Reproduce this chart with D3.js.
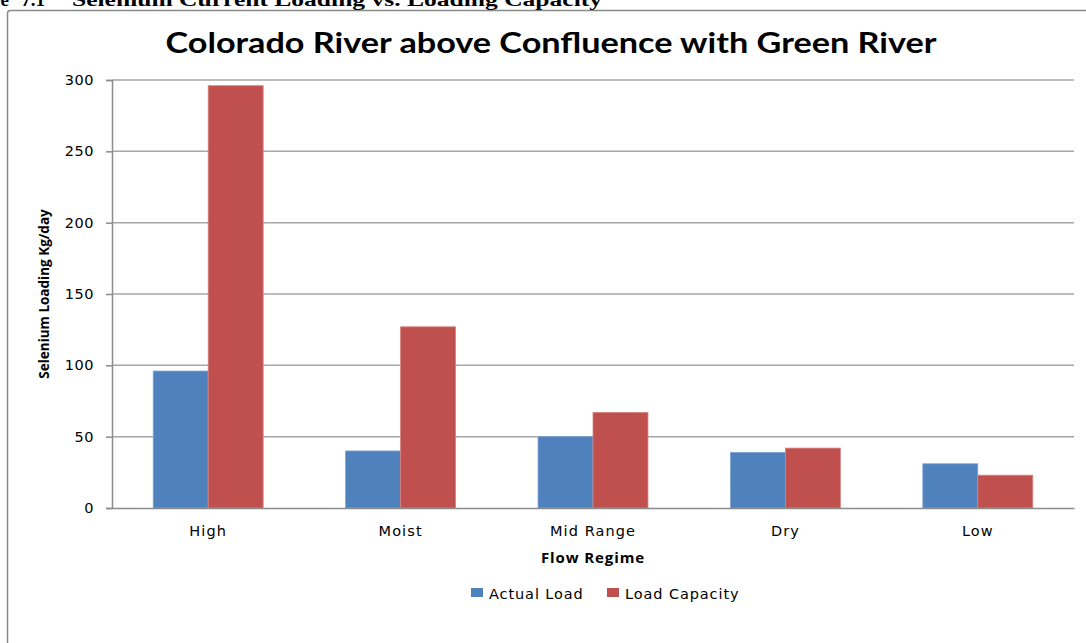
<!DOCTYPE html>
<html>
<head>
<meta charset="utf-8">
<script src="https://cdn.jsdelivr.net/npm/d3@7"></script>
<style>
  html, body { margin: 0; padding: 0; background: #fff; overflow: hidden; }
  svg { display: block; }
</style>
</head>
<body>
<svg id="chart" width="1086" height="643"></svg>
<script>
// Selenium loading by flow regime (kg/day)
const categories = ["High", "Moist", "Mid Range", "Dry", "Low"];
const actualLoad = [96, 40, 50, 39, 31];
const loadCapacity = [296, 127, 67, 42, 23];
const seriesNames = ["Actual Load", "Load Capacity"];
const yTicks = [0, 50, 100, 150, 200, 250, 300];

const colors = ["#4F81BD", "#C0504D"];
const edgeColors = ["#7FA3D3", "#D9837F"];

const svg = d3.select("#chart");
const plot = { left: 112, right: 1074, top: 80, bottom: 508 };
const sansFont = "'DejaVu Sans', 'Open Sans', sans-serif";
const serifFont = "'Liberation Serif', 'Times New Roman', serif";

// Chart frame
svg.append("rect")
  .attr("x", 7.5).attr("y", 10.5)
  .attr("width", 1200).attr("height", 800)
  .attr("rx", 3)
  .attr("fill", "#fff")
  .attr("stroke", "#8a8a8a")
  .attr("stroke-width", 1.5);

// Figure caption above the chart frame
const caption = svg.append("g")
  .attr("font-family", serifFont)
  .attr("font-weight", "bold")
  .attr("font-size", 19)
  .attr("fill", "#000");
caption.append("text")
  .attr("x", 9).attr("y", 6)
  .attr("text-anchor", "end")
  .text("Figure");
caption.append("text")
  .attr("x", 45).attr("y", 6)
  .attr("text-anchor", "end")
  .text("7.1");
caption.append("text")
  .attr("x", 72).attr("y", 6)
  .attr("textLength", 530)
  .attr("lengthAdjust", "spacingAndGlyphs")
  .text("Selenium Current Loading vs. Loading Capacity");

// Chart title
svg.append("text")
  .attr("x", 551).attr("y", 53)
  .attr("text-anchor", "middle")
  .attr("font-family", "Lato, 'Open Sans', sans-serif")
  .attr("font-weight", "bold")
  .attr("font-size", 29)
  .attr("fill", "#000")
  .attr("textLength", 771)
  .attr("lengthAdjust", "spacingAndGlyphs")
  .text("Colorado River above Confluence with Green River");

// Scales
const x0 = d3.scaleBand()
  .domain(categories)
  .range([plot.left, plot.right])
  .paddingInner(0)
  .paddingOuter(0);

const barW = x0.bandwidth() / 3.5;   // 150% gap width
const x1 = d3.scaleBand()
  .domain(seriesNames)
  .range([0, barW * 2]);

const y = d3.scaleLinear()
  .domain([0, 300])
  .range([plot.bottom, plot.top]);

// Gridlines
svg.append("g")
  .selectAll("line")
  .data(yTicks.filter(d => d > 0))
  .join("line")
  .attr("x1", plot.left).attr("x2", plot.right)
  .attr("y1", d => y(d)).attr("y2", d => y(d))
  .attr("stroke", "#a6a6a6")
  .attr("stroke-width", 1.5);

// Bars
const rows = categories.map((c, i) => ({
  cat: c,
  values: [actualLoad[i], loadCapacity[i]]
}));

const groups = svg.append("g")
  .selectAll("g")
  .data(rows)
  .join("g")
  .attr("transform", d => `translate(${x0(d.cat) + (x0.bandwidth() - barW * 2) / 2},0)`);

groups.selectAll("rect")
  .data(d => d.values.map((v, k) => ({ v, k })))
  .join("rect")
  .attr("x", d => x1(seriesNames[d.k]))
  .attr("y", d => y(d.v))
  .attr("width", x1.bandwidth())
  .attr("height", d => y(0) - y(d.v))
  .attr("fill", d => colors[d.k])
  .attr("stroke", d => edgeColors[d.k])
  .attr("stroke-width", 0.8);

// Y axis
const yAxis = d3.axisLeft(y)
  .tickValues(yTicks)
  .tickSize(6)
  .tickPadding(12)
  .tickFormat(d3.format("d"));

const yg = svg.append("g")
  .attr("transform", `translate(${plot.left},0)`)
  .call(yAxis);
yg.select(".domain").attr("stroke", "#8c8c8c").attr("stroke-width", 1.5);
yg.selectAll(".tick line").attr("stroke", "#8c8c8c").attr("stroke-width", 1.5);
yg.selectAll(".tick text")
  .attr("font-family", sansFont)
  .attr("font-size", 14.5)
  .attr("letter-spacing", 0.5)
  .attr("fill", "#000");

// X axis
const xAxis = d3.axisBottom(x0).tickSize(0).tickPadding(18);
const xg = svg.append("g")
  .attr("transform", `translate(0,${plot.bottom})`)
  .call(xAxis);
xg.select(".domain").attr("stroke", "#8c8c8c").attr("stroke-width", 1.5);
xg.selectAll(".tick text")
  .attr("font-family", sansFont)
  .attr("font-size", 14.5)
  .attr("letter-spacing", 1.1)
  .attr("fill", "#000");

// Axis titles
svg.append("text")
  .attr("transform", `translate(49,${(plot.top + plot.bottom) / 2}) rotate(-90)`)
  .attr("text-anchor", "middle")
  .attr("font-family", "'Open Sans', sans-serif")
  .attr("font-weight", "bold")
  .attr("font-size", 13.5)
  .attr("fill", "#000")
  .text("Selenium Loading Kg/day");

svg.append("text")
  .attr("x", (plot.left + plot.right) / 2).attr("y", 563)
  .attr("text-anchor", "middle")
  .attr("font-family", "'Open Sans', sans-serif")
  .attr("font-weight", "bold")
  .attr("font-size", 15)
  .attr("letter-spacing", 0.9)
  .attr("fill", "#000")
  .text("Flow Regime");

// Legend
const legendItems = [
  { name: seriesNames[0], color: colors[0], x: 471 },
  { name: seriesNames[1], color: colors[1], x: 607 }
];
const lg = svg.append("g")
  .selectAll("g")
  .data(legendItems)
  .join("g")
  .attr("transform", d => `translate(${d.x},588)`);
lg.append("rect")
  .attr("width", 12).attr("height", 9)
  .attr("fill", d => d.color);
lg.append("text")
  .attr("x", 18).attr("y", 10.5)
  .attr("font-family", sansFont)
  .attr("font-size", 14.5)
  .attr("letter-spacing", 0.9)
  .attr("fill", "#000")
  .text(d => d.name);
</script>
</body>
</html>
